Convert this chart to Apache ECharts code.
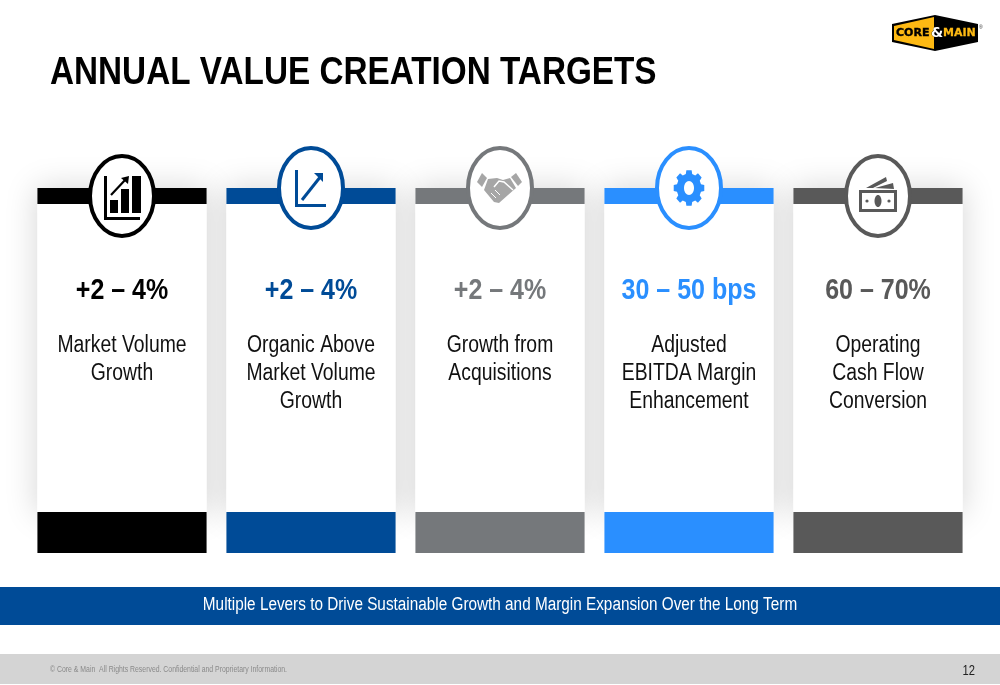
<!DOCTYPE html>
<html>
<head>
<meta charset="utf-8">
<title>Annual Value Creation Targets</title>
<script src="https://cdn.jsdelivr.net/npm/echarts@6/dist/echarts.min.js"></script>
<style>
  html, body { margin: 0; padding: 0; background: #fff; }
  #main { width: 1000px; height: 685px; }
</style>
</head>
<body>
<div id="main"></div>
<script>
// slide texts
var titleText = 'ANNUAL VALUE CREATION TARGETS';
var bannerText = 'Multiple Levers to Drive Sustainable Growth and Margin Expansion Over the Long Term';
var footerText = '© Core & Main  All Rights Reserved. Confidential and Proprietary Information.';
var pageNumber = '12';

// one card per category
var categories = ['Market Volume\nGrowth', 'Organic Above\nMarket Volume\nGrowth', 'Growth from\nAcquisitions', 'Adjusted\nEBITDA Margin\nEnhancement', 'Operating\nCash Flow\nConversion'];
var targets = ['+2 – 4%', '+2 – 4%', '+2 – 4%', '30 – 50 bps', '60 – 70%'];

var cardColors = ['#000000', '#004b97', '#75787b', '#2a8fff', '#595959'];
var ringOffset = [8, 0, 0, 0, 8]; // first and last ring sit lower
var sans = '"Liberation Sans", Arial, sans-serif';

var myChart = echarts.init(document.getElementById('main'));

function poly(points, fill) {
  return { type: 'polygon', shape: { points: points }, style: { fill: fill } };
}
function box(x, y, w, h, fill) {
  return { type: 'rect', shape: { x: x, y: y, width: w, height: h }, style: { fill: fill } };
}
function stroke(points, color, width) {
  return { type: 'polyline', shape: { points: points }, style: { fill: null, stroke: color, lineWidth: width } };
}
// the slide type is condensed, there is no narrow font here so squeeze it
function squeezed(text, x, y, sx, font, fill, align, z) {
  return {
    type: 'text', x: x, y: y, scaleX: sx, z: z,
    style: { text: text, x: 0, y: 0, align: align || 'left', verticalAlign: 'middle', fill: fill, font: font }
  };
}

// icons are drawn around the centre of the ring
function iconParts(i, c) {
  if (i === 0) {
    return [
      box(-18, -20, 3, 44, c), box(-18, 21, 36, 3, c),
      box(-12, 4, 8, 13, c), box(-1, -7, 8, 24, c), box(10, -20, 9, 37, c),
      stroke([[-11, -1], [4, -17]], c, 2.2),
      poly([[-1, -18], [7, -20], [6, -12]], c)
    ];
  }
  if (i === 1) {
    return [
      box(-16, -18, 3, 37, c), box(-16, 16, 31, 3, c),
      stroke([[-9, 12], [10, -12]], c, 3),
      poly([[3, -15], [12, -15], [12, -6]], c)
    ];
  }
  if (i === 2) {
    var g = '#a6a6a6';
    return [
      poly([[-18, -15], [-13, -10], [-18, -1], [-23, -6]], g),
      poly([[16, -15], [22, -6], [18, -2], [11, -11]], g),
      poly([[-12, -9], [-3, -10], [3, -8], [10, -10], [16, 0], [8, 7], [-1, 15], [-6, 14], [-16, 2]], g),
      stroke([[-6, -1], [-1, -7], [4, -6], [13, 2]], '#fff', 1.5),
      stroke([[-9, 5], [-4, 10]], '#fff', 1),
      stroke([[-5, 2], [0, 7]], '#fff', 1)
    ];
  }
  if (i === 3) {
    var gear = [];
    for (var t = 0; t < 8; t++) {
      var a = t * Math.PI / 4;
      [[-0.26, 0.8], [-0.17, 1], [0.17, 1], [0.26, 0.8]].forEach(function (p) {
        gear.push([15.5 * p[1] * Math.sin(a + p[0]), -18 * p[1] * Math.cos(a + p[0])]);
      });
    }
    return [
      poly(gear, c),
      { type: 'ellipse', shape: { cx: 0, cy: 0, rx: 5, ry: 7 }, style: { fill: '#fff' } }
    ];
  }
  return [
    poly([[-12, -8], [8, -19], [9, -15], [-5, -8]], c),
    poly([[-3, -8], [15, -13], [16, -7]], c),
    box(-19, -6, 38, 22, c), box(-16, -3, 32, 16, '#fff'),
    { type: 'ellipse', shape: { cx: 0, cy: 5, rx: 3.5, ry: 6 }, style: { fill: c } },
    { type: 'circle', shape: { cx: -11, cy: 5, r: 1.6 }, style: { fill: c } },
    { type: 'circle', shape: { cx: 11, cy: 5, r: 1.6 }, style: { fill: c } }
  ];
}

function renderShadow(params, api) {
  var cx = api.coord([api.value(0), 188])[0];
  var w = api.size([1, 0])[0] * 0.895;
  return {
    type: 'rect',
    shape: { x: cx - w / 2, y: 188, width: w, height: 326 },
    style: { fill: '#fff', shadowBlur: 30, shadowColor: 'rgba(0,0,0,0.17)' }
  };
}

function renderCard(params, api) {
  var i = api.value(0);
  var cx = api.coord([i, 0])[0];
  var w = api.size([1, 0])[0] * 0.895;
  var c = cardColors[i];
  var cy = 188 + ringOffset[i];
  return {
    type: 'group',
    children: [
      box(cx - w / 2, 204, w, 308, '#fff'),
      box(cx - w / 2, 188, w, 16, c),
      box(cx - w / 2, 512, w, 41, c),
      {
        type: 'ellipse',
        shape: { cx: cx, cy: cy, rx: 32, ry: 40 },
        style: { fill: '#fff', stroke: c, lineWidth: 4 }
      },
      { type: 'group', x: cx, y: cy, children: iconParts(i, c) },
      squeezed(targets[i], cx, 291, 0.862, 'bold 29px ' + sans, c, 'center'),
      {
        type: 'text', x: cx, y: 332, scaleX: 0.842,
        style: {
          text: categories[i], x: 0, y: 0, align: 'center', verticalAlign: 'top',
          fill: '#111', fontFamily: sans, fontSize: 23, lineHeight: 28
        }
      }
    ]
  };
}

var cardData = categories.map(function (c, i) { return [i]; });

var option = {
  animation: false,
  backgroundColor: '#fff',
  grid: { left: 27.5, top: 0, width: 945, height: 685 },
  xAxis: { type: 'category', data: categories, show: false },
  yAxis: { type: 'value', min: 0, max: 685, inverse: true, show: false },
  series: [
    { type: 'custom', z: 1, renderItem: renderShadow, data: cardData, encode: { x: 0 }, silent: true },
    { type: 'custom', z: 2, renderItem: renderCard, data: cardData, encode: { x: 0 }, silent: true }
  ],
  graphic: [
    squeezed(titleText, 50, 73.5, 0.876, 'bold 38px ' + sans, '#000', 'left', 5),
    // logo
    { type: 'polygon', z: 5, shape: { points: [[892, 24], [935, 15], [978, 24], [978, 42], [935, 51], [892, 42]] }, style: { fill: '#000' } },
    { type: 'polygon', z: 5, shape: { points: [[894, 26], [934, 17], [934, 49], [894, 40]] }, style: { fill: '#fdb913' } },
    { type: 'text', z: 6, style: { text: 'CORE', x: 896, y: 33, verticalAlign: 'middle', fill: '#000', stroke: '#000', lineWidth: 0.4, font: 'bold 11px "DejaVu Sans"' } },
    { type: 'text', z: 6, style: { text: '&', x: 931, y: 33, verticalAlign: 'middle', fill: '#fff', stroke: '#000', lineWidth: 0.5, font: 'bold 14px "DejaVu Sans"' } },
    { type: 'text', z: 6, style: { text: 'MAIN', x: 943, y: 33, verticalAlign: 'middle', fill: '#fdb913', stroke: '#fdb913', lineWidth: 0.3, font: 'bold 11px "DejaVu Sans"' } },
    { type: 'text', z: 6, style: { text: '®', x: 979, y: 28, verticalAlign: 'middle', fill: '#333', font: '5px ' + sans } },
    // banner
    { type: 'rect', z: 5, shape: { x: 0, y: 587, width: 1000, height: 38 }, style: { fill: '#004b97' } },
    squeezed(bannerText, 500, 605, 0.851, '18px ' + sans, '#fff', 'center', 6),
    // footer
    { type: 'rect', z: 5, shape: { x: 0, y: 654, width: 1000, height: 30 }, style: { fill: '#d4d4d4' } },
    squeezed(footerText, 50, 670, 0.765, '9px ' + sans, '#8a8a8a', 'left', 6),
    squeezed(pageNumber, 975, 671, 0.8, '14px ' + sans, '#222', 'right', 6)
  ]
};

myChart.setOption(option);
</script>
</body>
</html>
